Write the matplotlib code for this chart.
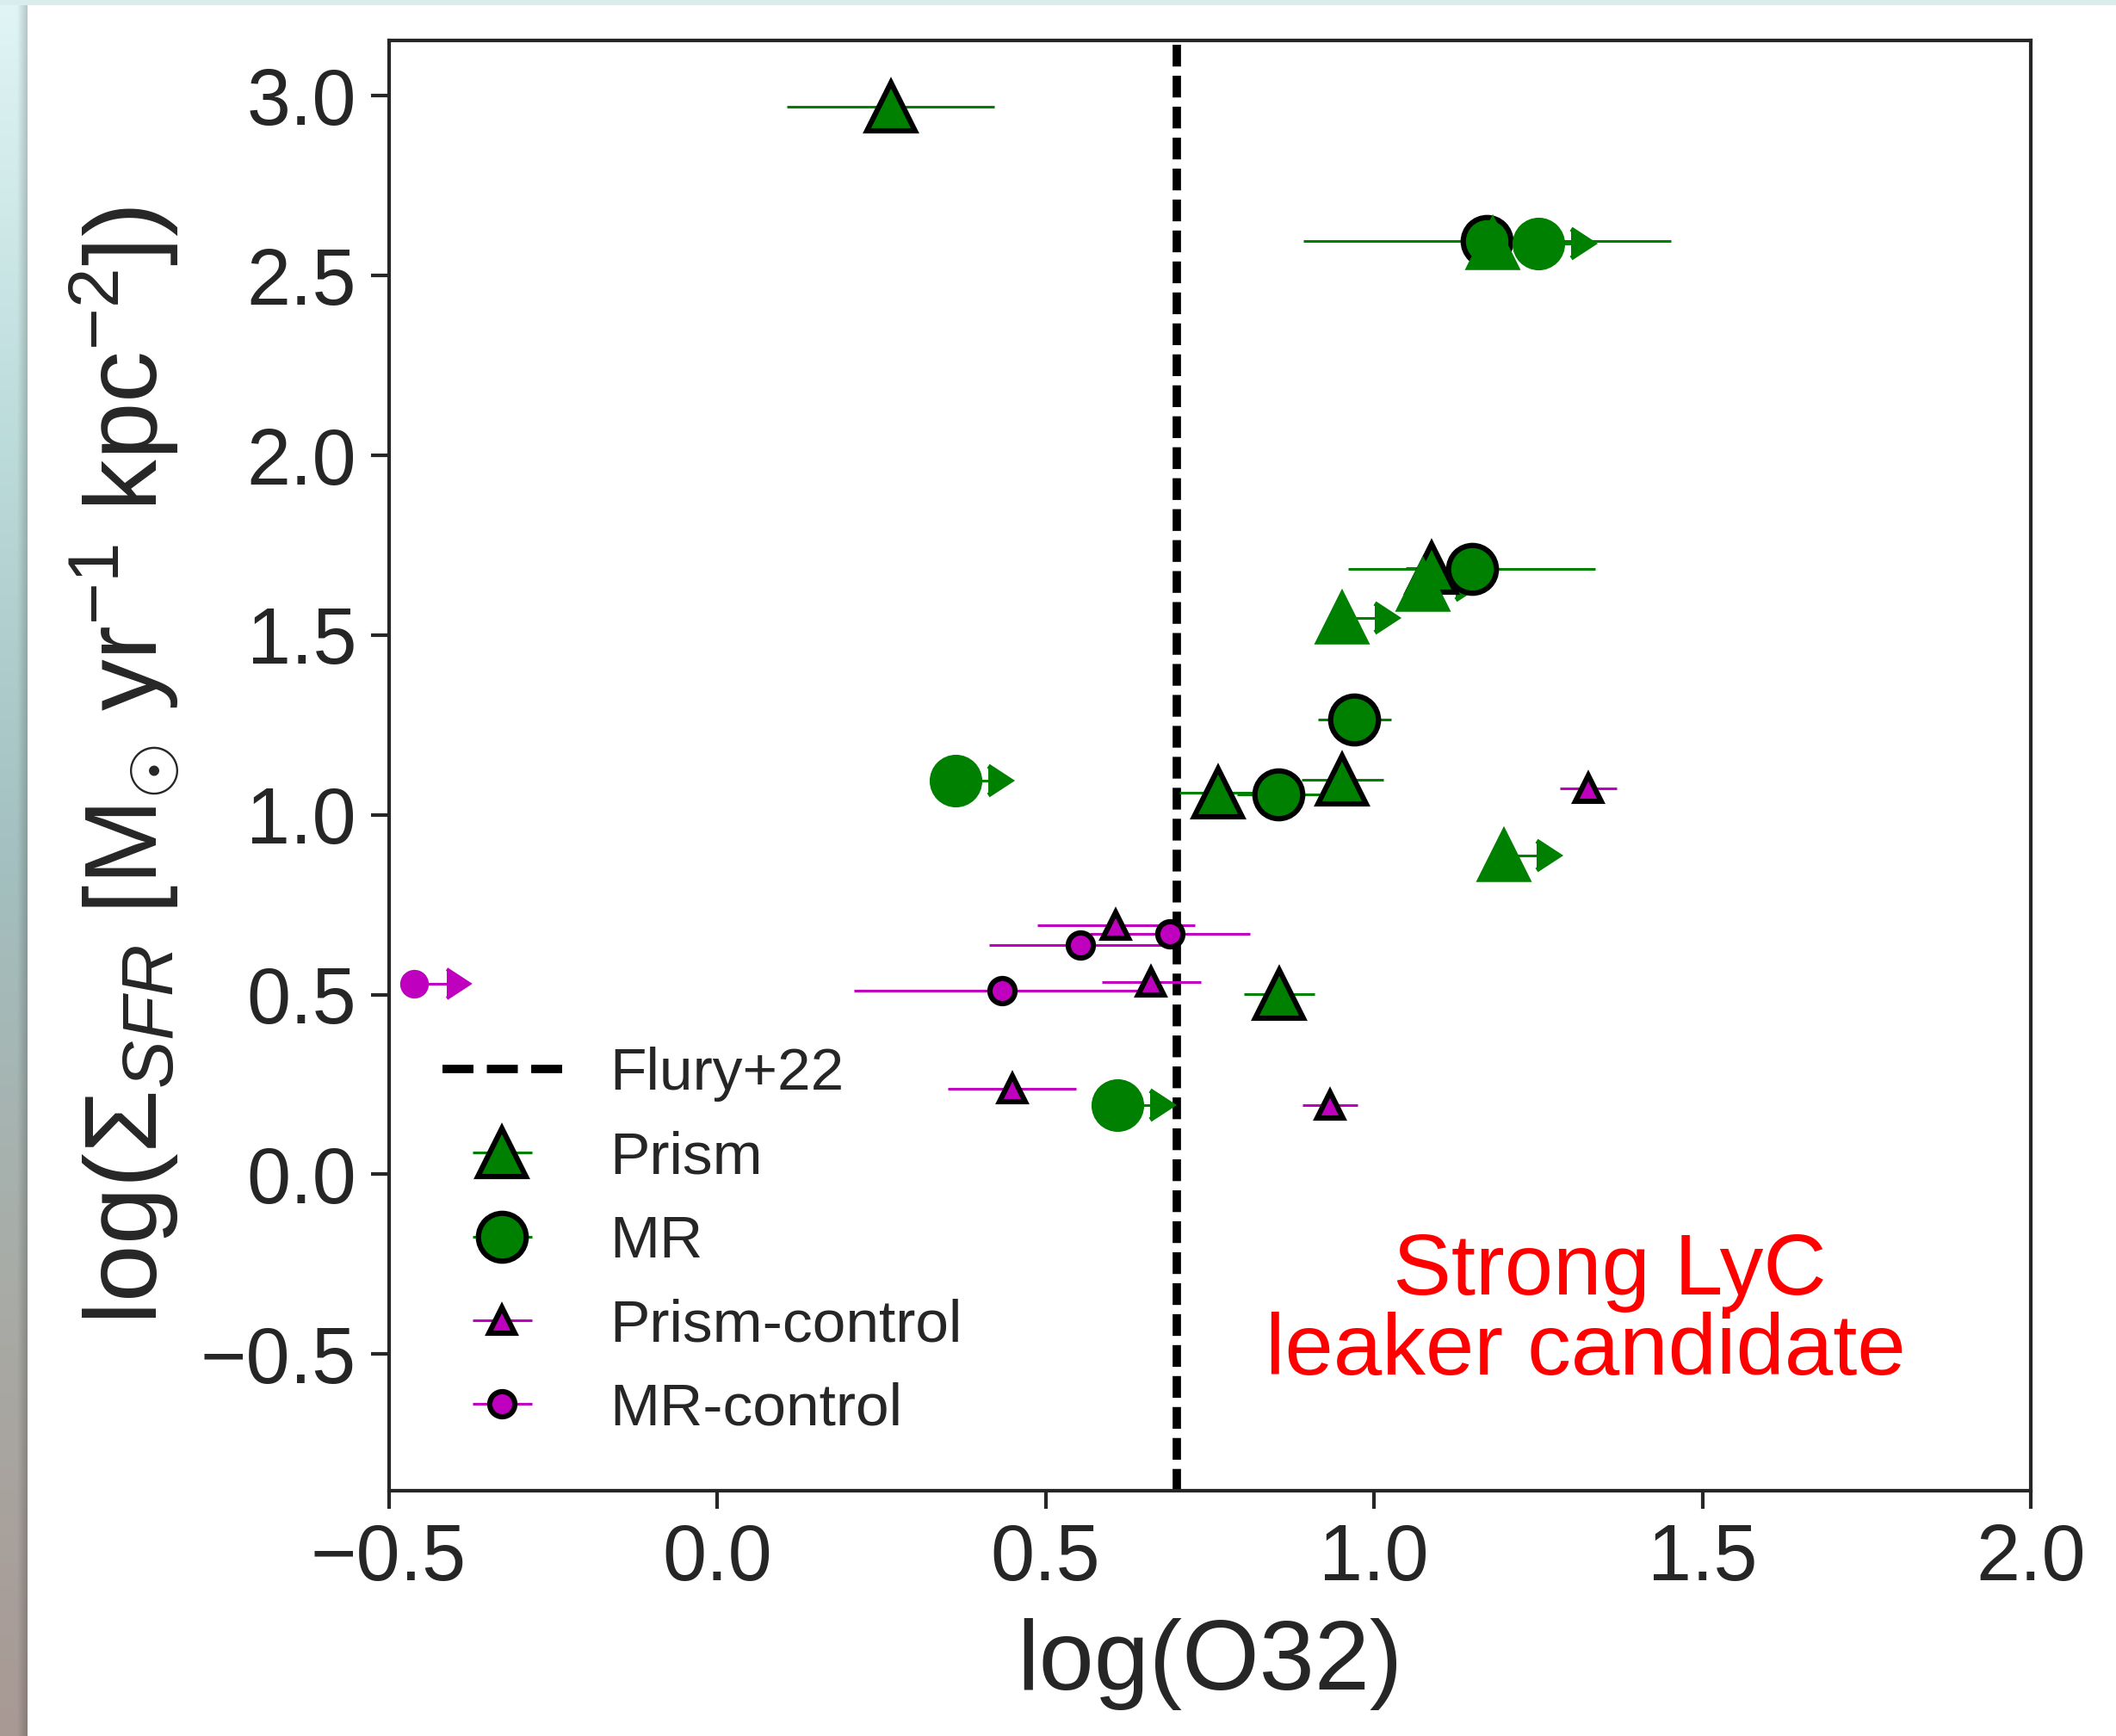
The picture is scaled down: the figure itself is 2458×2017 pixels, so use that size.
import numpy as np
import matplotlib
matplotlib.use("Agg")
import matplotlib.pyplot as plt

plt.rcParams["font.family"] = ["Liberation Sans", "DejaVu Sans"]
plt.rcParams["mathtext.fontset"] = "custom"
plt.rcParams["mathtext.rm"] = "Liberation Sans"
plt.rcParams["mathtext.it"] = "Liberation Sans:italic"
plt.rcParams["mathtext.bf"] = "Liberation Sans:bold"
plt.rcParams["lines.markersize"] = 12.5  # size of the lower-limit arrow heads

# Prism sample (detections)
prism_o32 = [0.264, 0.763, 0.952, 0.856, 1.088]
prism_sfr = [2.970, 1.061, 1.097, 0.501, 1.687]
prism_o32_err = [0.158, 0.059, 0.062, 0.054, 0.040]

# MR sample (detections)
mr_o32 = [1.172, 1.149, 0.970, 0.854]
mr_sfr = [2.596, 1.683, 1.264, 1.057]
mr_o32_err = [0.280, 0.188, 0.056, 0.063]

# lower limits on O32
prism_lim_o32 = [1.181, 1.074, 0.951, 1.198]
prism_lim_sfr = [2.589, 1.638, 1.547, 0.886]
mr_lim_o32 = [1.250, 0.363, 0.609]
mr_lim_sfr = [2.589, 1.095, 0.192]
lim_arrow = 0.05

# control samples
pc_o32 = [0.607, 0.661, 0.449, 0.933, 1.326]
pc_sfr = [0.694, 0.534, 0.238, 0.192, 1.074]
pc_o32_err = [0.120, 0.075, 0.098, 0.042, 0.043]

mc_o32 = [0.553, 0.689, 0.434]
mc_sfr = [0.638, 0.668, 0.511]
mc_o32_err = [0.139, 0.122, 0.226]

mc_lim_o32 = [-0.462]
mc_lim_sfr = [0.530]

flury_o32 = 0.7

dark = "0.15"
fig = plt.figure(figsize=(12.29, 10.085), dpi=200)

# coloured frame strip on the left and top edge
strip = fig.add_axes([0, 0, 32 / 2458, 1], zorder=-5)
stops = np.array([[0.88, 0.96, 0.96], [0.74, 0.86, 0.86], [0.64, 0.75, 0.75],
                  [0.66, 0.67, 0.65], [0.66, 0.60, 0.58]])
rows = np.linspace(0, 1, 200)
col = np.stack([np.interp(rows, np.linspace(0, 1, len(stops)), stops[:, k]) for k in range(3)], axis=1)
shade = np.concatenate([np.ones(12), np.linspace(1.0, 0.82, 8)])
grad = col[:, None, :] * shade[None, :, None]
strip.imshow(grad, aspect="auto", interpolation="bilinear")
strip.set_axis_off()
top = fig.add_axes([0, 1 - 6 / 2017, 1, 6 / 2017], zorder=-5)
top.set_facecolor((0.85, 0.93, 0.93))
top.set_xticks([])
top.set_yticks([])
for s in top.spines.values():
    s.set_visible(False)

ax = fig.add_axes([0.1837, 0.1413, 0.7761, 0.8354])

vl = ax.axvline(flury_o32, color="black", ls="--", lw=3.5, dashes=(2.6, 1.1), zorder=1.5,
                label="Flury+22")

big = dict(ms=20, mew=2.2, mec="black", elinewidth=1.1)
small = dict(ms=10.5, mew=2.2, mec="black", elinewidth=1.1)

h_prism = ax.errorbar(prism_o32, prism_sfr, xerr=prism_o32_err, fmt="^", color="green", **big)
h_mr = ax.errorbar(mr_o32, mr_sfr, xerr=mr_o32_err, fmt="o", color="green", **big)
ax.errorbar(prism_lim_o32, prism_lim_sfr, xerr=lim_arrow, xlolims=True, fmt="^",
            color="green", ms=20, mew=2, elinewidth=1.1)
ax.errorbar(mr_lim_o32, mr_lim_sfr, xerr=lim_arrow, xlolims=True, fmt="o",
            color="green", ms=20, mew=2, elinewidth=1.1)
h_pc = ax.errorbar(pc_o32, pc_sfr, xerr=pc_o32_err, fmt="^", color="m", **small)
h_mc = ax.errorbar(mc_o32, mc_sfr, xerr=mc_o32_err, fmt="o", color="m", **small)
ax.errorbar(mc_lim_o32, mc_lim_sfr, xerr=lim_arrow, xlolims=True, fmt="o",
            color="m", ms=10.5, mew=1.5, elinewidth=1.1)

ax.text(1.322, -0.383, "  Strong LyC\nleaker candidate", color="red", fontsize=36.5,
        ha="center", va="center", multialignment="center", linespacing=0.98)

ax.set_xlim(-0.5, 2.0)
ax.set_ylim(-0.88, 3.154)
ax.set_xticks([-0.5, 0.0, 0.5, 1.0, 1.5, 2.0])
ax.set_yticks(np.arange(-0.5, 3.01, 0.5))
ax.tick_params(axis="both", labelsize=33, length=7.5, width=1.5, pad=6,
               color=dark, labelcolor=dark, direction="out")
for s in ax.spines.values():
    s.set_linewidth(1.5)
    s.set_color(dark)

ax.set_xlabel("log(O32)", fontsize=41.5, color=dark, labelpad=9)
ax.set_ylabel(r"log($\Sigma_{SFR}$ [M$_{\odot}$ yr$^{-1}$ kpc$^{-2}$])", fontsize=43,
              color=dark, labelpad=8)

leg = ax.legend(handles=[vl, h_prism, h_mr, h_pc, h_mc],
                labels=["Flury+22", "Prism", "MR", "Prism-control", "MR-control"],
                loc="lower left", frameon=False, fontsize=25, labelspacing=0.48,
                handletextpad=0.8)
for t in leg.get_texts():
    t.set_color(dark)
leg.get_lines()[0].set_dashes((3.7, 1.6))

fig.savefig("out.png", dpi=200)
